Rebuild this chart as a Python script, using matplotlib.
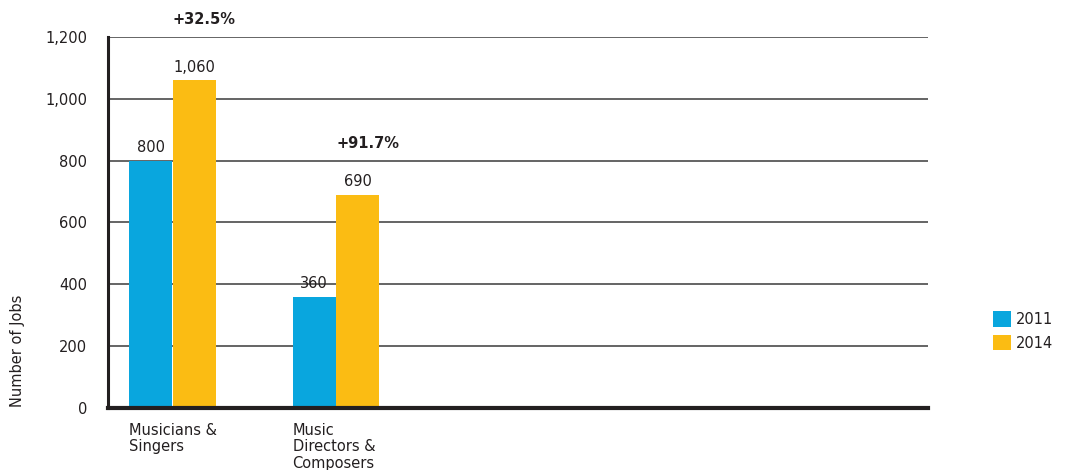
import numpy as np
import matplotlib.pyplot as plt

plt.rcParams['font.family'] = ['DejaVu Sans']

categories = ['Musicians &\nSingers', 'Music\nDirectors &\nComposers']
years = ['2011', '2014']
jobs_2011 = [800, 360]
jobs_2014 = [1060, 690]
growth = ['+32.5%', '+91.7%']
yticks = [0, 200, 400, 600, 800, 1000, 1200]

blue = '#09A6DE'
orange = '#FBBC13'
txt = '#231F20'

fig = plt.figure(figsize=(10.66, 4.70), dpi=100)
ax = fig.add_axes([0.1013, 0.1319, 0.7692, 0.7894])

x = np.arange(len(categories))
w = 0.263
b1 = ax.bar(x - 0.1335, jobs_2011, w, color=blue, zorder=3, label=years[0])
b2 = ax.bar(x + 0.1335, jobs_2014, w, color=orange, zorder=3, label=years[1])

for bars in (b1, b2):
    for r in bars:
        h = r.get_height()
        ax.annotate(f'{h:,.0f}', (r.get_x() + r.get_width() / 2, h),
                    xytext=(0, 4), textcoords='offset points',
                    ha='center', va='bottom', fontsize=10.5, color=txt)

# growth labels above the 2014 bars
offs = [38.5, 31.5]
for r, g, o in zip(b2, growth, offs):
    ax.annotate(g, (r.get_x(), r.get_height()), xytext=(0, o),
                textcoords='offset points', ha='left', va='bottom',
                fontsize=10.5, fontweight='bold', color=txt, annotation_clip=False)

ax.set_xlim(-0.394, 4.62)
ax.set_ylim(0, 1200)
ax.set_yticks(yticks)
ax.set_yticklabels([f'{v:,}' for v in yticks], fontsize=10.5, color=txt)
ax.set_xticks(x - 0.1335 - w / 2)
ax.set_xticklabels(categories, ha='left', va='top', fontsize=10.5, color=txt,
                   linespacing=1.1)
ax.tick_params(axis='both', length=0)
ax.tick_params(axis='y', pad=15)
ax.tick_params(axis='x', pad=11)

ax.grid(axis='y', color='#4a4a4a', lw=1.2, zorder=0)
ax.set_axisbelow(True)
for s in ('top', 'right'):
    ax.spines[s].set_visible(False)
ax.spines['left'].set_linewidth(2.2)
ax.spines['left'].set_color(txt)
ax.spines['bottom'].set_linewidth(3)
ax.spines['bottom'].set_color(txt)
ax.spines['bottom'].set_zorder(4)

fig.text(0.016, 0.253, 'Number of Jobs', rotation=90, ha='center', va='center',
         fontsize=10.5, color=txt)

ax.legend(loc='upper left', bbox_to_anchor=(0.9245, 0.353), bbox_transform=fig.transFigure,
          frameon=False, fontsize=10.5, handlelength=1.25, handleheight=1.25,
          handletextpad=0.35, labelspacing=0.55, borderpad=0, labelcolor=txt)

fig.savefig('out.png', dpi=100)
